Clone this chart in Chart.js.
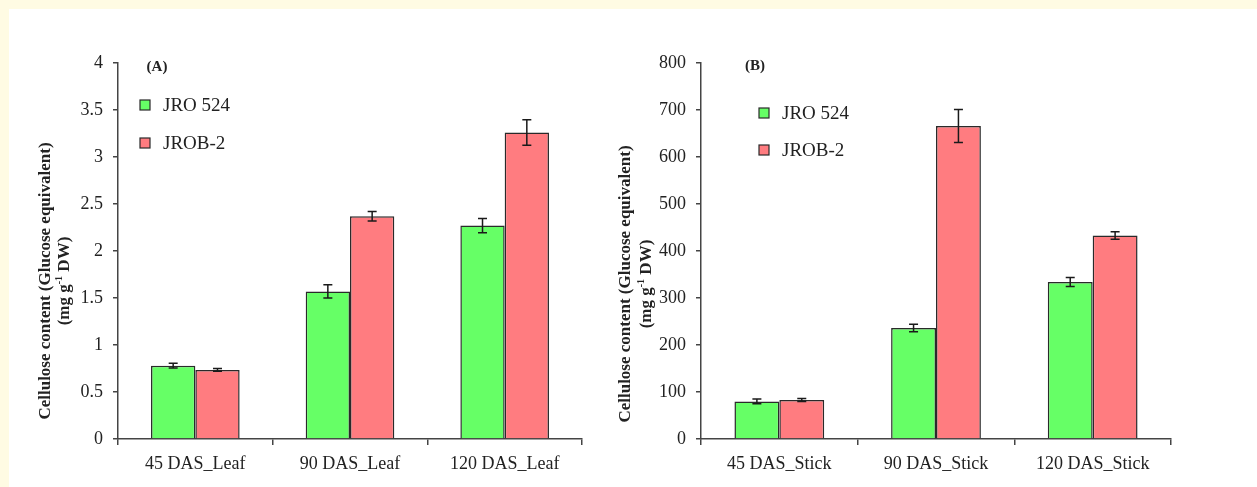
<!DOCTYPE html>
<html>
<head>
<meta charset="utf-8">
<script src="https://cdn.jsdelivr.net/npm/chart.js@4.4.1/dist/chart.umd.min.js"></script>
<style>
  body { margin: 0; background: #FFFBE3; width: 1257px; height: 487px; overflow: hidden; }
  #panel { position: absolute; left: 9px; top: 9px; width: 1248px; height: 478px; background: #fff; }
  canvas { position: absolute; top: 0; }
  #leafChart { left: 0; }
  #stickChart { left: 600px; }
</style>
</head>
<body>
<div id="panel"></div>
<canvas id="leafChart" width="600" height="487"></canvas>
<canvas id="stickChart" width="657" height="487"></canvas>
<script>
// series names and categories
const seriesNames = ['JRO 524', 'JROB-2'];
const leafLabels = ['45 DAS_Leaf', '90 DAS_Leaf', '120 DAS_Leaf'];
const stickLabels = ['45 DAS_Stick', '90 DAS_Stick', '120 DAS_Stick'];

// (A) leaf values, mg g-1 DW, with error bars
const leafJRO524 = [0.78, 1.57, 2.27];
const leafJRO524Err = [0.025, 0.07, 0.075];
const leafJROB2 = [0.735, 2.37, 3.26];
const leafJROB2Err = [0.015, 0.05, 0.135];

// (B) stick values
const stickJRO524 = [80, 236, 334];
const stickJRO524Err = [5, 8, 9.5];
const stickJROB2 = [83, 666, 433];
const stickJROB2Err = [3, 35, 8];

const titleLine1 = 'Cellulose content (Glucose equivalent)';
const titleLine2 = ['(mg g', '-1', ' DW)'];

const GREEN = '#66FF66';
const RED = '#FF7C80';
const INK = '#222';
const SERIF = '"Liberation Serif", "Times New Roman", serif';

// error bars drawn on top of the bars
const errorBars = {
  id: 'errorBars',
  afterDatasetsDraw(chart) {
    const ctx = chart.ctx;
    const yScale = chart.scales.y;
    ctx.save();
    ctx.strokeStyle = '#1a1a1a';
    ctx.lineWidth = 1.5;
    chart.data.datasets.forEach((ds, i) => {
      const meta = chart.getDatasetMeta(i);
      meta.data.forEach((bar, j) => {
        const v = ds.data[j], e = ds.errors[j];
        const top = yScale.getPixelForValue(v + e);
        const bot = yScale.getPixelForValue(v - e);
        ctx.beginPath();
        ctx.moveTo(bar.x, top); ctx.lineTo(bar.x, bot);
        ctx.moveTo(bar.x - 4.5, top); ctx.lineTo(bar.x + 4.5, top);
        ctx.moveTo(bar.x - 4.5, bot); ctx.lineTo(bar.x + 4.5, bot);
        ctx.stroke();
      });
    });
    ctx.restore();
  }
};

// panel letter, legend and the two-line y title
const panelDecor = {
  id: 'panelDecor',
  afterDraw(chart, args, opts) {
    const ctx = chart.ctx;
    ctx.save();
    ctx.fillStyle = INK;
    ctx.font = 'bold 15px ' + SERIF;
    ctx.textAlign = 'center';
    ctx.textBaseline = 'middle';
    ctx.fillText(opts.letter, opts.letterX, opts.letterY);

    chart.data.datasets.forEach((ds, i) => {
      const y = opts.legendY[i];
      ctx.fillStyle = ds.backgroundColor;
      ctx.fillRect(opts.legendX - 5, y - 5, 10, 10);
      ctx.strokeStyle = '#2a2a2a';
      ctx.lineWidth = 1.2;
      ctx.strokeRect(opts.legendX - 5, y - 5, 10, 10);
      ctx.fillStyle = INK;
      ctx.font = '19px ' + SERIF;
      ctx.textAlign = 'left';
      ctx.fillText(ds.label, opts.legendX + 18, y + 1);
    });

    // rotated y title
    ctx.font = 'bold 17px ' + SERIF;
    ctx.textBaseline = 'middle';
    ctx.save();
    ctx.translate(opts.titleX[0], opts.titleY);
    ctx.rotate(-Math.PI / 2);
    ctx.textAlign = 'center';
    ctx.fillText(titleLine1, 0, 0);
    ctx.restore();

    ctx.save();
    ctx.translate(opts.titleX[1], opts.titleY);
    ctx.rotate(-Math.PI / 2);
    ctx.textAlign = 'left';
    const bold = 'bold 17px ' + SERIF, sup = 'bold 10px ' + SERIF;
    ctx.font = bold; const w0 = ctx.measureText(titleLine2[0]).width;
    ctx.font = sup; const w1 = ctx.measureText(titleLine2[1]).width;
    ctx.font = bold; const w2 = ctx.measureText(titleLine2[2]).width;
    let x = -(w0 + w1 + w2) / 2;
    ctx.fillText(titleLine2[0], x, 0); x += w0;
    ctx.font = sup; ctx.fillText(titleLine2[1], x, -6); x += w1;
    ctx.font = bold; ctx.fillText(titleLine2[2], x, 0);
    ctx.restore();
    ctx.restore();
  }
};

function makeChart(id, labels, a, aErr, b, bErr, yMax, yStep, yWidth, pad, decor) {
  const ctx = document.getElementById(id).getContext('2d');
  return new Chart(ctx, {
    type: 'bar',
    data: {
      labels: labels,
      datasets: [
        { label: seriesNames[0], data: a, errors: aErr, backgroundColor: GREEN,
          borderColor: '#2a2a2a', borderWidth: 1.5 },
        { label: seriesNames[1], data: b, errors: bErr, backgroundColor: RED,
          borderColor: '#2a2a2a', borderWidth: 1.5 }
      ]
    },
    options: {
      responsive: false,
      animation: false,
      layout: { padding: pad },
      datasets: { bar: { categoryPercentage: 0.573, barPercentage: 1 } },
      scales: {
        x: {
          grid: { drawOnChartArea: false, tickLength: 6, color: '#444', lineWidth: 1.5 },
          border: { color: '#444', width: 1.5 },
          ticks: { font: { family: SERIF, size: 18 }, color: INK, padding: 8 },
          afterFit(scale) { scale.height = 48; }
        },
        y: {
          min: 0, max: yMax,
          grid: { drawOnChartArea: false, tickLength: 5, color: '#444', lineWidth: 1.5 },
          border: { color: '#444', width: 1.5 },
          ticks: {
            stepSize: yStep, font: { family: SERIF, size: 18 }, color: INK, padding: 10,
            callback: (value) => String(Number(value))
          },
          afterFit(scale) { scale.width = yWidth; }
        }
      },
      plugins: {
        legend: { display: false },
        tooltip: { enabled: false },
        panelDecor: decor
      }
    },
    plugins: [errorBars, panelDecor]
  });
}

makeChart('leafChart', leafLabels, leafJRO524, leafJRO524Err, leafJROB2, leafJROB2Err,
  4, 0.5, 118, { top: 63, right: 18, bottom: 0, left: 0 },
  { letter: '(A)', letterX: 157, letterY: 67, legendX: 145, legendY: [105, 143],
    titleX: [46, 65], titleY: 281 });

makeChart('stickChart', stickLabels, stickJRO524, stickJRO524Err, stickJROB2, stickJROB2Err,
  800, 100, 101, { top: 63, right: 86, bottom: 0, left: 0 },
  { letter: '(B)', letterX: 155, letterY: 66, legendX: 164, legendY: [113, 150],
    titleX: [26, 47], titleY: 284 });
</script>
</body>
</html>
